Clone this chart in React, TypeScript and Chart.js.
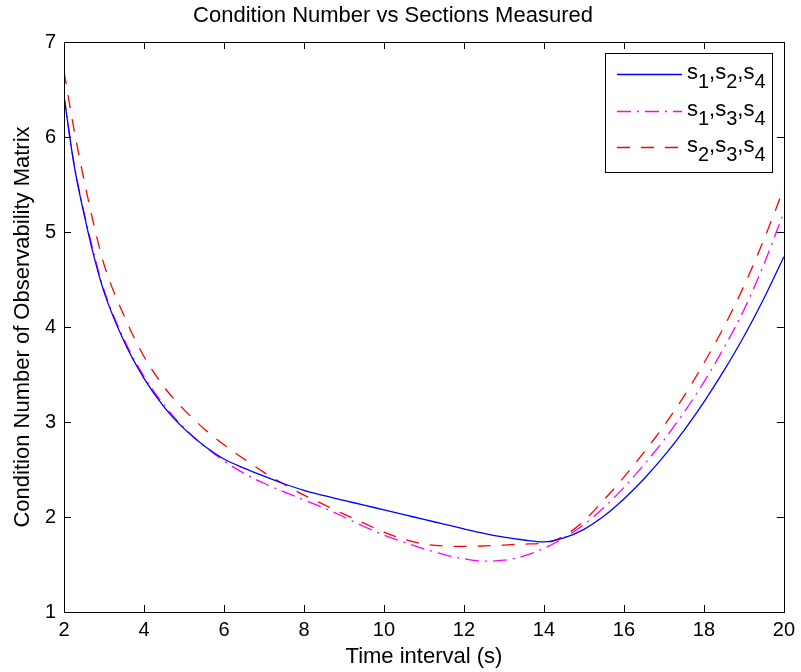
import React, { useEffect, useRef } from "react";
import { Chart, registerables } from "chart.js";

Chart.register(...registerables);

const FONT = "'Liberation Sans', Arial, Helvetica, sans-serif";

const titleText = "Condition Number vs Sections Measured";
const xAxisLabel = "Time interval (s)";
const yAxisLabel = "Condition Number of Observability Matrix";

const xTicks = [2, 4, 6, 8, 10, 12, 14, 16, 18, 20];
const yTicks = [1, 2, 3, 4, 5, 6, 7];

const timeInterval = [
  2, 2.25, 2.5, 2.75, 3, 3.5, 4, 4.5, 5, 5.5, 6, 6.5, 7, 7.5, 8, 8.5, 9, 9.5, 10,
  10.5, 11, 11.5, 12, 12.5, 13, 13.5, 14, 14.5, 15, 15.5, 16, 16.5, 17, 17.5, 18,
  18.5, 19, 19.5, 20,
];

// s1,s2,s4
const cond124 = [
  6.43, 5.71, 5.19, 4.74, 4.37, 3.85, 3.46, 3.16, 2.93, 2.75, 2.61, 2.515, 2.43, 2.35,
  2.28, 2.225, 2.175, 2.125, 2.075, 2.025, 1.975, 1.925, 1.875, 1.828, 1.788, 1.758,
  1.738, 1.78, 1.87, 2.01, 2.19, 2.4, 2.64, 2.91, 3.21, 3.54, 3.9, 4.3, 4.74,
];

// s1,s3,s4
const cond134 = [
  6.43, 5.72, 5.21, 4.77, 4.39, 3.87, 3.48, 3.18, 2.94, 2.75, 2.59, 2.46, 2.355, 2.265,
  2.18, 2.095, 2.0, 1.9, 1.81, 1.735, 1.665, 1.605, 1.56, 1.535, 1.545, 1.59, 1.67,
  1.78, 1.92, 2.1, 2.31, 2.55, 2.81, 3.1, 3.42, 3.78, 4.18, 4.66, 5.21,
];

// s2,s3,s4
const cond234 = [
  6.69, 6.08, 5.55, 5.07, 4.66, 4.12, 3.69, 3.37, 3.13, 2.93, 2.76, 2.61, 2.47, 2.345,
  2.23, 2.13, 2.03, 1.935, 1.84, 1.765, 1.715, 1.695, 1.69, 1.695, 1.705, 1.715,
  1.725, 1.8, 1.96, 2.18, 2.42, 2.68, 2.96, 3.27, 3.62, 4.0, 4.43, 4.92, 5.46,
];

const seriesLabels = ["s1,s2,s4", "s1,s3,s4", "s2,s3,s4"];
const legendSubscripts = [
  ["1", "2", "4"],
  ["1", "3", "4"],
  ["2", "3", "4"],
];

const toPoints = (ys: number[]) => timeInterval.map((x, i) => ({ x, y: ys[i] }));

const boxTicksPlugin = {
  id: "boxTicks",
  afterDatasetsDraw(chart: any) {
    const { ctx, chartArea, scales } = chart;
    const { left, right, top, bottom } = chartArea;
    const L = 7;
    ctx.save();
    ctx.strokeStyle = "#000";
    ctx.lineWidth = 1;
    ctx.setLineDash([]);
    ctx.beginPath();
    for (const v of xTicks) {
      const px = Math.round(scales.x.getPixelForValue(v)) + 0.5;
      ctx.moveTo(px, bottom);
      ctx.lineTo(px, bottom - L);
      ctx.moveTo(px, top);
      ctx.lineTo(px, top + L);
    }
    for (const v of yTicks) {
      const py = Math.round(scales.y.getPixelForValue(v)) + 0.5;
      ctx.moveTo(left, py);
      ctx.lineTo(left + L, py);
      ctx.moveTo(right, py);
      ctx.lineTo(right - L, py);
    }
    ctx.stroke();
    ctx.strokeRect(Math.round(left) + 0.5, Math.round(top) + 0.5, Math.round(right - left), Math.round(bottom - top));
    ctx.restore();
  },
};

const legendPlugin = {
  id: "matlabLegend",
  afterDraw(chart: any) {
    const { ctx, chartArea } = chart;
    const w = 167;
    const h = 119;
    const lx = Math.round(chartArea.right - 12 - w);
    const ty = Math.round(chartArea.top + 11);
    ctx.save();
    ctx.fillStyle = "#fff";
    ctx.fillRect(lx, ty, w, h);
    ctx.strokeStyle = "#000";
    ctx.lineWidth = 1;
    ctx.setLineDash([]);
    ctx.strokeRect(lx + 0.5, ty + 0.5, w, h);
    chart.data.datasets.forEach((ds: any, i: number) => {
      const yy = Math.round(ty + 21 + i * 36.7) + 0.5;
      ctx.strokeStyle = ds.borderColor;
      ctx.lineWidth = ds.borderWidth;
      ctx.setLineDash(ds.borderDash || []);
      ctx.beginPath();
      ctx.moveTo(lx + 12, yy);
      ctx.lineTo(lx + 77, yy);
      ctx.stroke();
      ctx.setLineDash([]);
      ctx.fillStyle = "#000";
      ctx.textAlign = "left";
      ctx.textBaseline = "alphabetic";
      let tx = lx + 82;
      const base = yy + 4;
      const subs = legendSubscripts[i];
      subs.forEach((d, k) => {
        ctx.font = `22px ${FONT}`;
        ctx.fillText("s", tx, base);
        tx += ctx.measureText("s").width;
        ctx.font = `20px ${FONT}`;
        ctx.fillText(d, tx, base + 9);
        tx += ctx.measureText(d).width;
        if (k < subs.length - 1) {
          ctx.font = `22px ${FONT}`;
          ctx.fillText(",", tx, base);
          tx += ctx.measureText(",").width;
        }
      });
    });
    ctx.restore();
  },
};

export default function App() {
  const canvasRef = useRef<HTMLCanvasElement | null>(null);

  useEffect(() => {
    if (!canvasRef.current) return;
    const chart = new Chart(canvasRef.current, {
      type: "line",
      data: {
        datasets: [
          {
            label: seriesLabels[0],
            data: toPoints(cond124),
            borderColor: "#0000ff",
            borderWidth: 1.3,
            pointRadius: 0,
            fill: false,
            cubicInterpolationMode: "monotone",
          },
          {
            label: seriesLabels[1],
            data: toPoints(cond134),
            borderColor: "#ff00ff",
            borderWidth: 1.3,
            borderDash: [14, 6, 2, 6],
            pointRadius: 0,
            fill: false,
            cubicInterpolationMode: "monotone",
          },
          {
            label: seriesLabels[2],
            data: toPoints(cond234),
            borderColor: "#ff0000",
            borderWidth: 1.3,
            borderDash: [13, 11],
            pointRadius: 0,
            fill: false,
            cubicInterpolationMode: "monotone",
          },
        ],
      },
      options: {
        responsive: false,
        animation: false,
        layout: { padding: { left: 0, right: 15, top: 0, bottom: 0 } },
        plugins: {
          legend: { display: false },
          tooltip: { enabled: false },
          title: {
            display: true,
            text: titleText,
            color: "#000",
            font: { family: FONT, size: 22, weight: "normal" },
            padding: { top: 3, bottom: 12.6 },
          },
        },
        scales: {
          x: {
            type: "linear",
            min: 2,
            max: 20,
            afterFit: (scale: any) => {
              scale.height = 60;
            },
            afterBuildTicks: (scale: any) => {
              scale.ticks = xTicks.map((v) => ({ value: v }));
            },
            ticks: {
              color: "#000",
              font: { family: FONT, size: 20 },
              padding: 6,
              maxRotation: 0,
              autoSkip: false,
            },
            grid: { display: false, drawTicks: false },
            border: { display: false },
            title: {
              display: true,
              text: xAxisLabel,
              color: "#000",
              font: { family: FONT, size: 22 },
              padding: { top: 0, bottom: 2 },
            },
          },
          y: {
            type: "linear",
            min: 1,
            max: 7,
            afterFit: (scale: any) => {
              scale.width = 64;
            },
            afterBuildTicks: (scale: any) => {
              scale.ticks = yTicks.map((v) => ({ value: v }));
            },
            ticks: {
              color: "#000",
              font: { family: FONT, size: 20 },
              padding: 8,
              autoSkip: false,
            },
            grid: { display: false, drawTicks: false },
            border: { display: false },
            title: {
              display: true,
              text: yAxisLabel,
              color: "#000",
              font: { family: FONT, size: 22 },
              padding: { top: 10, bottom: 0 },
            },
          },
        },
      },
      plugins: [boxTicksPlugin, legendPlugin],
    } as any);
    return () => chart.destroy();
  }, []);

  return (
    <canvas
      ref={canvasRef}
      width={801}
      height={672}
      style={{ position: "absolute", left: 0, top: 0, display: "block", width: 801, height: 672 }}
    />
  );
}
